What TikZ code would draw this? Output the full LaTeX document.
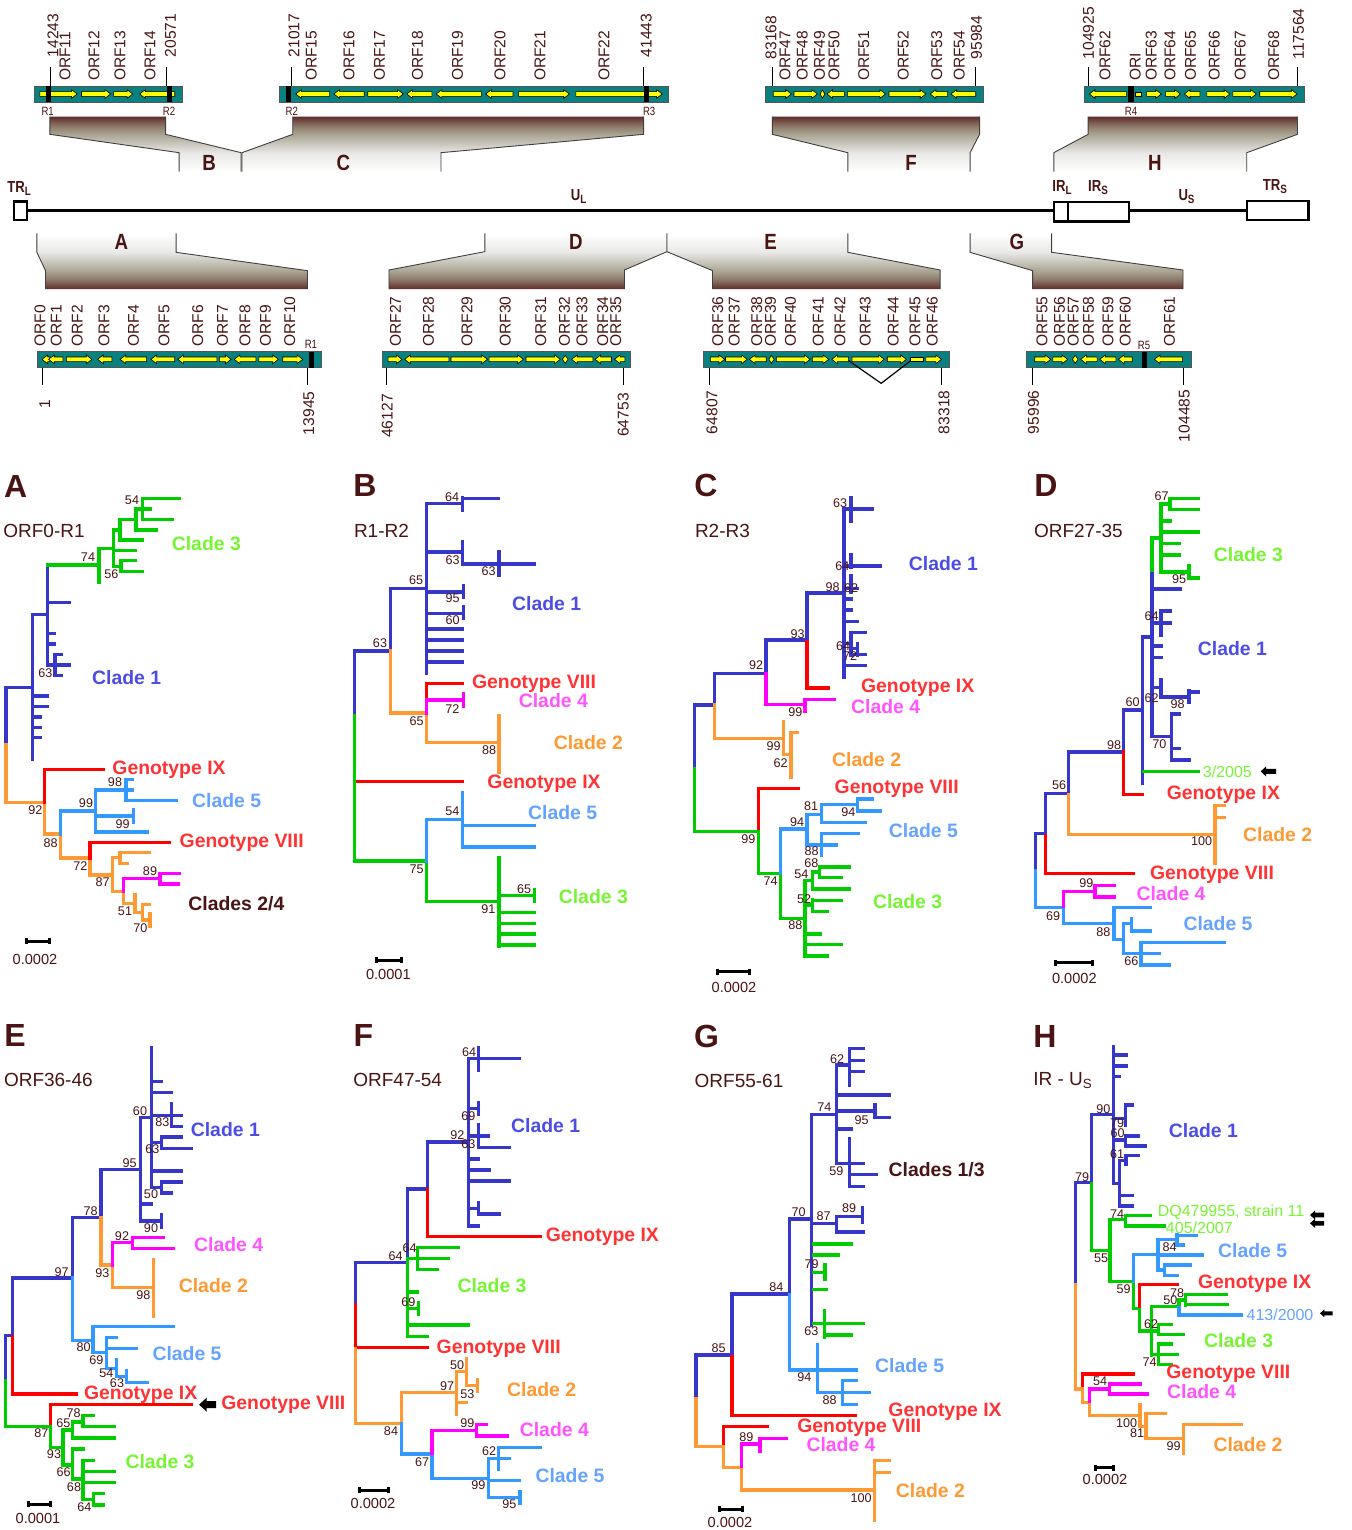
\documentclass[tikz,border=0pt]{standalone}
\usepackage{fontspec}
\setmainfont{Liberation Sans}
\definecolor{txt}{HTML}{4A1414}
\definecolor{barteal}{HTML}{0A8080}
\definecolor{baredge}{HTML}{555555}
\definecolor{gyel}{HTML}{FFFF00}
\definecolor{cb}{HTML}{3636C8}
\definecolor{cg}{HTML}{00CC00}
\definecolor{co}{HTML}{FF9933}
\definecolor{cr}{HTML}{FF0000}
\definecolor{cm}{HTML}{FF00FF}
\definecolor{cs}{HTML}{3399FF}
\definecolor{lb}{HTML}{4D4DE6}
\definecolor{lg}{HTML}{77F533}
\definecolor{lo}{HTML}{FF9933}
\definecolor{lr}{HTML}{FF3333}
\definecolor{lm}{HTML}{FF55FF}
\definecolor{ls}{HTML}{66A3FF}
\definecolor{shA}{HTML}{E8E8E6}
\definecolor{shB}{HTML}{AAA492}
\definecolor{shC}{HTML}{8A7565}
\definecolor{shD}{HTML}{5E2C2A}
\pgfdeclareverticalshading{shTop}{100bp}{color(0bp)=(white); color(25bp)=(white); color(42bp)=(shA); color(59bp)=(shB); color(67bp)=(shC); color(75bp)=(shD); color(100bp)=(shD)}
\pgfdeclareverticalshading{shBot}{100bp}{color(0bp)=(shD); color(25bp)=(shD); color(33bp)=(shC); color(41bp)=(shB); color(58bp)=(shA); color(75bp)=(white); color(100bp)=(white)}
\newcount\gNum
\newcommand\gNext{\global\advance\gNum by 1\relax}
\tikzset{
 zt/.style={x=0.21683pt,y=-0.16667pt},
 tz/.style={x=0.16667pt,y=-0.16667pt},
 tzb/.style={x=0.16667pt,y=-0.1699pt},
 tline/.style={line width=1.7pt,line cap=rect,line join=miter},
 tb/.style={tline,draw=cb},
 tg/.style={tline,draw=cg},
 to/.style={tline,draw=co},
 tr/.style={tline,draw=cr},
 tm/.style={tline,draw=cm},
 ts/.style={tline,draw=cs},
 plain/.style={inner sep=0pt,outer sep=0pt},
 bsv/.style={plain,text=txt,font=\fontsize{6.3}{7}\selectfont},
 rot/.style={plain,text=txt,rotate=90,anchor=west,font=\fontsize{7.8}{8}\selectfont},
 small/.style={plain,text=txt,xscale=.8,font=\fontsize{6}{7}\selectfont},
 seg/.style={plain,text=txt,xscale=.82,font=\fontsize{8}{9}\bfseries\selectfont},
 big/.style={plain,text=txt,xscale=.85,font=\fontsize{11}{12}\bfseries\selectfont},
 clade/.style={plain,font=\fontsize{9.7}{10}\bfseries\selectfont},
 thinl/.style={plain,font=\fontsize{8}{9}\selectfont},
 ttl/.style={plain,text=txt,anchor=west,font=\fontsize{9.5}{10}\selectfont},
 letter/.style={plain,text=txt,font=\fontsize{16}{17}\bfseries\selectfont},
 sval/.style={plain,text=txt,font=\fontsize{7.3}{8}\selectfont},
 gfill/.style={fill=gyel,draw=black,line width=.3pt},
 side/.style={draw=black!75,line width=.45pt},
 tick/.style={draw=black,line width=.5pt},
 box/.style={draw=black,line width=1.2pt,fill=white},
}
\newcommand\gBar[4]{\fill[barteal,draw=baredge,line width=.3pt] (#1,#3) rectangle (#2,#4);}
\newcommand\gMk[4]{\fill[black] (#1,#3) rectangle (#2,#4);}
\newcommand\gRt[3]{\filldraw[gfill] (#1,#3-7)--(#2-13,#3-7)--(#2-13,#3-13)--(#2,#3)--(#2-13,#3+13)--(#2-13,#3+7)--(#1,#3+7)--cycle;}
\newcommand\gLt[3]{\filldraw[gfill] (#2,#3-7)--(#1+13,#3-7)--(#1+13,#3-13)--(#1,#3)--(#1+13,#3+13)--(#1+13,#3+7)--(#2,#3+7)--cycle;}
\newcommand\gDm[3]{\filldraw[gfill] (#1,#3)--({(#1+#2)/2},#3-12)--(#2,#3)--({(#1+#2)/2},#3+12)--cycle;}
\newcommand\gSq[3]{\filldraw[gfill] (#1,#3-6) rectangle (#2,#3+6);}
\newcommand\gRo[3]{\gNext\node[rot] (n\the\gNum) at (#1,#2) {#3};}
\newcommand\gVal[3]{\gNext\node[bsv] (n\the\gNum) at (#1,#2) {#3};}
\newcommand\gLab[4]{\gNext\node[clade,text=#1] (n\the\gNum) at (#2,#3) {#4};}
\newcommand\gThin[4]{\gNext\node[thinl,text=#1] (n\the\gNum) at (#2,#3) {#4};}
\newcommand\gSty[4]{\gNext\node[#1] (n\the\gNum) at (#2,#3) {#4};}
\newcommand\gScale[6]{\draw[black,line width=1.5pt] (#1,#3)--(#2,#3) (#1,#3-9)--(#1,#3+9) (#2,#3-9)--(#2,#3+9);
  \gNext\node[sval] (n\the\gNum) at (#4,#5) {#6};}
\newcommand\gPt[4]{\fill[black] (#1,#3)--(#1+#4*1.1,#3-#4)--(#1+#4*1.1,#3-#4/2)--(#2,#3-#4/2)--(#2,#3+#4/2)--(#1+#4*1.1,#3+#4/2)--(#1+#4*1.1,#3+#4)--cycle;}
\begin{document}
\begin{tikzpicture}[x=0.5pt,y=-0.5pt]
\useasboundingbox (0,0) rectangle (1352,1530);
\fill[white] (0,0) rectangle (1352,1530);
% ---------- top left schematic
\begin{scope}[zt]
\shade[shading=shTop] (115,350)--(382,350)--(382,403)--(556,458)--(556,515)--(413,515)--(413,458)--(115,403)--cycle;
\draw[side] (115,350)--(115,403)--(413,458)--(413,515) (382,350)--(382,403)--(556,458)--(556,515);
\shade[shading=shTop] (675,350)--(1484,350)--(1484,403)--(1017,458)--(1017,515)--(558,515)--(558,458)--(675,403)--cycle;
\draw[side] (675,350)--(675,403)--(558,458)--(558,515) (1484,350)--(1484,403)--(1017,458)--(1017,515);
\gBar{78}{420}{258}{306}
\gRt{92}{178}{282}\gRt{188}{255}{282}\gRt{262}{306}{282}\gLt{322}{403}{282}
\gMk{105}{118}{258}{306}\gMk{385}{397}{258}{306}
\gBar{644}{1540}{258}{306}
\gLt{682}{760}{282}\gLt{770}{840}{282}\gRt{848}{930}{282}\gLt{938}{996}{282}\gLt{1006}{1110}{282}\gLt{1120}{1183}{282}\gRt{1196}{1313}{282}\gRt{1328}{1527}{282}
\gMk{660}{672}{258}{306}\gMk{1485}{1497}{258}{306}
\draw[tick] (117,200)--(117,258) (384,200)--(384,258) (673,200)--(673,258) (1483,200)--(1483,258);
\gRo{122}{172}{14243}\gRo{150}{243}{ORF11}\gRo{217}{243}{ORF12}\gRo{277}{243}{ORF13}\gRo{346}{243}{ORF14}\gRo{393}{172}{20571}
\gRo{678}{172}{21017}\gRo{718}{243}{ORF15}\gRo{805}{243}{ORF16}\gRo{875}{243}{ORF17}\gRo{963}{243}{ORF18}\gRo{1055}{243}{ORF19}\gRo{1153}{243}{ORF20}\gRo{1245}{243}{ORF21}\gRo{1393}{243}{ORF22}\gRo{1490}{172}{41443}
\gSty{small}{110}{335}{R1}\gSty{small}{390}{335}{R2}\gSty{small}{673}{335}{R2}\gSty{small}{1497}{335}{R3}
\gSty{big}{482}{490}{B}\gSty{big}{792}{490}{C}
\gSty{seg}{45}{565}{TR\textsubscript{L}}\gSty{seg}{1335}{590}{U\textsubscript{L}}
\coordinate (trlE) at (62,632);
\end{scope}
% ---------- top right schematic
\begin{scope}[shift={(670,0)},zt]
\shade[shading=shTop] (236,350)--(714,350)--(714,403)--(692,458)--(692,515)--(410,515)--(410,458)--(236,403)--cycle;
\draw[side] (236,350)--(236,403)--(410,458)--(410,515) (714,350)--(714,403)--(692,458)--(692,515);
\shade[shading=shTop] (964,350)--(1447,350)--(1447,403)--(1330,458)--(1330,515)--(885,515)--(885,458)--(964,403)--cycle;
\draw[side] (964,350)--(964,403)--(885,458)--(885,515) (1447,350)--(1447,403)--(1330,458)--(1330,515);
\gBar{220}{722}{258}{306}
\gRt{238}{280}{282}\gRt{286}{340}{282}\gDm{346}{357}{282}\gLt{362}{402}{282}\gRt{409}{497}{282}\gRt{505}{590}{282}\gLt{600}{640}{282}\gLt{648}{705}{282}
\gBar{955}{1462}{258}{306}
\gLt{967}{1053}{282}\gSq{1073}{1087}{282}\gRt{1099}{1133}{282}\gRt{1143}{1177}{282}\gLt{1186}{1222}{282}\gRt{1238}{1291}{282}\gRt{1298}{1352}{282}\gRt{1360}{1446}{282}
\gMk{1057}{1069}{258}{306}
\draw[tick] (236,200)--(236,258) (705,200)--(705,258) (964,200)--(964,258) (1448,200)--(1448,258);
\gRo{233}{178}{83168}\gRo{265}{243}{ORF47}\gRo{305}{243}{ORF48}\gRo{345}{243}{ORF49}\gRo{378}{243}{ORF50}\gRo{447}{243}{ORF51}\gRo{538}{243}{ORF52}\gRo{615}{243}{ORF53}\gRo{667}{243}{ORF54}\gRo{707}{178}{95984}
\gRo{965}{178}{104925}\gRo{1003}{243}{ORF62}\gRo{1073}{243}{ORI}\gRo{1110}{243}{ORF63}\gRo{1153}{243}{ORF64}\gRo{1200}{243}{ORF65}\gRo{1255}{243}{ORF66}\gRo{1315}{243}{ORF67}\gRo{1392}{243}{ORF68}\gRo{1449}{178}{117564}
\gSty{small}{1063}{335}{R4}
\gSty{big}{556}{490}{F}\gSty{big}{1118}{490}{H}
\gSty{seg}{905}{563}{IR\textsubscript{L}}\gSty{seg}{988}{563}{IR\textsubscript{S}}\gSty{seg}{1192}{590}{U\textsubscript{S}}\gSty{seg}{1396}{560}{TR\textsubscript{S}}
\coordinate (irlW) at (885,632);
\coordinate (irsE) at (1058,632);
\coordinate (trsW) at (1330,632);
\end{scope}
% main genome line
\draw[black,line width=1.2pt] (trlE)--(irlW) (irsE)--(trsW);
\begin{scope}[zt]
\draw[box] (32,604) rectangle (62,660);
\end{scope}
\begin{scope}[shift={(670,0)},zt]
\draw[box] (885,606) rectangle (918,664);
\draw[box] (918,606) rectangle (1058,664);
\draw[box] (1330,603) rectangle (1472,660);
\end{scope}
% ---------- lower left schematic
\begin{scope}[shift={(0,230)},zt]
\shade[shading=shBot] (105,177)--(709,177)--(709,122)--(406,67)--(406,10)--(85,10)--(85,67)--(105,122)--cycle;
\draw[side] (85,10)--(85,67)--(105,122)--(105,177) (406,10)--(406,67)--(709,122)--(709,177);
\shade[shading=shBot] (897,177)--(1440,177)--(1440,120)--(1538,65)--(1538,10)--(1118,10)--(1118,65)--(897,120)--cycle;
\draw[side] (1118,10)--(1118,65)--(897,120)--(897,177) (1538,10)--(1538,65)--(1440,120)--(1440,177);
\gBar{85}{740}{365}{413}
\gLt{97}{115}{388}\gLt{112}{145}{388}\gRt{153}{212}{388}\gLt{225}{258}{388}\gLt{277}{338}{388}\gLt{348}{403}{388}\gLt{410}{500}{388}\gRt{506}{533}{388}\gLt{540}{590}{388}\gRt{597}{642}{388}\gRt{652}{698}{388}
\gMk{712}{725}{365}{413}
\gBar{881}{1453}{365}{413}
\gRt{895}{927}{388}\gLt{933}{1035}{388}\gRt{1040}{1124}{388}\gRt{1128}{1207}{388}\gRt{1213}{1292}{388}\gDm{1297}{1310}{388}\gLt{1318}{1367}{388}\gLt{1372}{1410}{388}\gLt{1417}{1441}{388}
\draw[tick] (98,413)--(98,465) (710,413)--(710,465) (892,413)--(892,465) (1438,413)--(1438,465);
\gRo{92}{350}{ORF0}\gRo{130}{350}{ORF1}\gRo{178}{350}{ORF2}\gRo{240}{350}{ORF3}\gRo{308}{350}{ORF4}\gRo{378}{350}{ORF5}\gRo{456}{350}{ORF6}\gRo{513}{350}{ORF7}\gRo{565}{350}{ORF8}\gRo{612}{350}{ORF9}\gRo{668}{350}{ORF10}
\gRo{912}{350}{ORF27}\gRo{988}{350}{ORF28}\gRo{1077}{350}{ORF29}\gRo{1165}{350}{ORF30}\gRo{1247}{350}{ORF31}\gRo{1302}{350}{ORF32}\gRo{1342}{350}{ORF33}\gRo{1390}{350}{ORF34}\gRo{1420}{350}{ORF35}
\gSty{small}{717}{343}{R1}
\gRo{103}{535}{1}\gRo{712}{615}{13945}\gRo{893}{623}{46127}\gRo{1437}{620}{64753}
\gSty{big}{280}{35}{A}\gSty{big}{1328}{35}{D}
\end{scope}
% ---------- lower right schematic
\begin{scope}[shift={(670,230)},zt]
\shade[shading=shBot] (98,177)--(623,177)--(623,120)--(410,67)--(410,10)--(-7,10)--(-7,65)--(98,122)--cycle;
\draw[side] (-7,10)--(-7,65)--(98,122)--(98,177) (410,10)--(410,67)--(623,120)--(623,177);
\shade[shading=shBot] (836,177)--(1183,177)--(1183,120)--(880,67)--(880,10)--(692,10)--(692,67)--(836,122)--cycle;
\draw[side] (692,10)--(692,67)--(836,122)--(836,177) (880,10)--(880,67)--(1183,120)--(1183,177);
\gBar{77}{645}{365}{413}
\gRt{93}{126}{388}\gRt{128}{178}{388}\gLt{183}{222}{388}\gDm{228}{240}{388}\gRt{245}{323}{388}\gRt{328}{366}{388}\gLt{373}{412}{388}\gRt{420}{494}{388}\gRt{501}{545}{388}\gSq{555}{583}{388}\gRt{590}{626}{388}
\draw[black,line width=.6pt] (412,392)--(487,460)--(555,392);
\gBar{821}{1203}{365}{413}
\gRt{841}{878}{388}\gRt{883}{917}{388}\gDm{928}{941}{388}\gLt{947}{985}{388}\gLt{991}{1028}{388}\gLt{1034}{1066}{388}\gLt{1117}{1182}{388}
\gMk{1088}{1100}{365}{413}
\draw[tick] (92,413)--(92,465) (626,413)--(626,465) (837,413)--(837,465) (1185,413)--(1185,465);
\gRo{110}{350}{ORF36}\gRo{148}{350}{ORF37}\gRo{200}{350}{ORF38}\gRo{232}{350}{ORF39}\gRo{278}{350}{ORF40}\gRo{342}{350}{ORF41}\gRo{392}{350}{ORF42}\gRo{450}{350}{ORF43}\gRo{515}{350}{ORF44}\gRo{565}{350}{ORF45}\gRo{605}{350}{ORF46}
\gRo{858}{350}{ORF55}\gRo{898}{350}{ORF56}\gRo{930}{350}{ORF57}\gRo{965}{350}{ORF58}\gRo{1010}{350}{ORF59}\gRo{1050}{350}{ORF60}\gRo{1152}{350}{ORF61}
\gSty{small}{1093}{345}{R5}
\gRo{97}{612}{64807}\gRo{632}{612}{83318}\gRo{838}{612}{95996}\gRo{1186}{636}{104485}
\gSty{big}{232}{35}{E}\gSty{big}{800}{35}{G}
\end{scope}
% ---------- tree A
\begin{scope}[shift={(0,460)},tz]
\draw[tb] (18,855)|-(98,683) (98,463)--(98,897) (98,463)--(143,463) (143,315)--(143,615) (143,428)--(208,428) (143,520)--(163,520) (143,552)--(163,552) (143,615)--(208,615) (165,583)--(165,647) (165,583)--(185,583) (165,647)--(185,647) (98,708)--(143,708) (98,740)--(143,740) (98,771)--(120,771) (98,802)--(120,802) (98,833)--(120,833);
\draw[tg] (143,315)--(297,315) (297,265)--(297,368) (297,265)--(340,265) (340,210)--(340,320) (340,210)--(360,210) (360,178)--(360,240) (360,178)--(408,178) (360,240)--(428,240) (408,147)--(408,210) (408,147)--(428,147) (408,210)--(470,210) (428,115)--(428,178) (428,115)--(538,115) (428,178)--(516,178) (428,147)--(450,147) (340,271)--(407,271) (340,320)--(363,320) (363,302)--(363,334) (363,302)--(407,302) (363,334)--(428,334);
\draw[to] (18,855)|-(133,1027) (133,1027)|-(181,1122) (181,1122)|-(270,1194) (270,1194)|-(338,1245) (338,1192)--(338,1295) (338,1192)--(360,1192) (360,1178)--(360,1210) (360,1178)--(447,1178) (360,1210)--(383,1210) (338,1295)--(370,1295) (370,1295)|-(405,1330) (405,1303)--(405,1357) (405,1357)--(428,1357) (428,1333)--(428,1380) (428,1333)--(447,1333) (428,1380)--(450,1380) (450,1362)--(450,1400);
\draw[tr] (133,1027)|-(310,928) (270,1194)|-(507,1147);
\draw[ts] (181,1122)|-(287,1053) (287,990)--(287,1116) (287,990)--(378,990) (378,958)--(378,1022) (378,958)--(397,958) (378,1022)--(530,1022) (378,990)--(398,990) (287,1068)--(400,1068) (400,1050)--(400,1087) (287,1116)--(443,1116);
\draw[tm] (370,1295)|-(480,1256) (480,1241)--(480,1272) (480,1241)--(538,1241) (480,1272)--(534,1272);
\gVal{396}{122}{54}\gVal{264}{290}{74}\gVal{334}{342}{56}\gVal{136}{638}{63}\gVal{345}{966}{98}\gVal{258}{1029}{99}\gVal{368}{1091}{99}\gVal{106}{1049}{92}\gVal{152}{1148}{88}\gVal{241}{1219}{72}\gVal{308}{1266}{87}\gVal{450}{1232}{89}\gVal{375}{1355}{51}\gVal{421}{1405}{70}
\gLab{lg}{619}{252}{Clade 3}\gLab{lb}{380}{653}{Clade 1}\gLab{lr}{507}{928}{Genotype IX}\gLab{ls}{680}{1022}{Clade 5}\gLab{lr}{725}{1148}{Genotype VIII}\gLab{txt}{709}{1330}{Clades 2/4}
\gSty{ttl}{10}{212}{ORF0-R1}\gSty{letter}{47}{78}{A}
\gScale{80}{148}{1443}{105}{1497}{0.0002}
\end{scope}
% ---------- tree B
\begin{scope}[shift={(340,460)},tzb]
\draw[tb] (44,752)|-(152,562) (152,562)|-(260,378) (260,128)--(260,627) (260,128)--(367,128) (367,110)--(367,148) (367,113)--(475,113) (260,271)--(367,271) (367,240)--(367,306) (367,306)--(477,306) (477,270)--(477,340) (477,306)--(584,306) (260,388)--(370,388) (370,370)--(370,403) (260,451)--(370,451) (370,433)--(370,467) (260,497)--(367,497) (260,530)--(367,530) (260,562)--(367,562) (260,594)--(367,594);
\draw[to] (152,562)|-(260,745) (260,745)|-(477,832) (477,752)--(477,918);
\draw[tr] (260,700)|-(367,658) (44,946)--(367,946);
\draw[tm] (260,745)|-(370,706) (370,688)--(370,724);
\draw[tg] (44,752)|-(260,1180) (260,1180)|-(477,1300) (477,1170)--(477,1430) (477,1282)--(584,1282) (584,1265)--(584,1300) (477,1332)--(584,1332) (477,1364)--(584,1364) (477,1395)--(584,1395) (477,1427)--(584,1427);
\draw[ts] (260,1180)|-(367,1058) (368,978)--(368,1140) (368,1076)--(584,1076) (368,1139)--(584,1139);
\gVal{336}{108}{64}\gVal{338}{296}{63}\gVal{446}{328}{63}\gVal{228}{355}{65}\gVal{338}{407}{95}\gVal{338}{472}{60}\gVal{120}{538}{63}\gVal{337}{732}{72}\gVal{230}{768}{65}\gVal{447}{855}{88}\gVal{337}{1035}{54}\gVal{230}{1204}{75}\gVal{552}{1262}{65}\gVal{445}{1322}{91}
\gLab{lb}{620}{423}{Clade 1}\gLab{lr}{582}{658}{Genotype VIII}\gLab{lm}{640}{707}{Clade 4}\gLab{lo}{745}{832}{Clade 2}\gLab{lr}{612}{952}{Genotype IX}\gLab{ls}{668}{1038}{Clade 5}\gLab{lg}{760}{1285}{Clade 3}
\gSty{ttl}{42}{208}{R1-R2}\gSty{letter}{75}{75}{B}
\gScale{108}{185}{1472}{145}{1514}{0.0001}
\end{scope}
% ---------- tree C
\begin{scope}[shift={(680,470)},tzb]
\draw[tb] (44,878)|-(104,692) (104,692)|-(258,598) (258,598)|-(381,500) (381,500)|-(492,362) (492,115)--(492,610) (492,115)--(513,115) (513,82)--(513,150) (513,115)--(577,115) (492,282)--(513,282) (513,248)--(513,285) (513,282)--(600,282) (513,310)--(513,360) (492,348)--(533,348) (492,380)--(513,380) (492,412)--(513,412) (492,445)--(533,445) (492,510)--(513,510) (513,478)--(513,545) (513,478)--(555,478) (513,525)--(533,525) (533,510)--(533,545) (513,543)--(555,543) (492,576)--(555,576);
\draw[tr] (381,505)|-(446,642) (235,1063)|-(355,937);
\draw[tm] (258,600)|-(375,690) (375,675)--(375,710) (375,675)--(463,675);
\draw[to] (104,692)|-(311,790) (311,740)--(311,838) (311,838)--(333,838) (333,772)--(333,905) (333,772)--(353,772);
\draw[tg] (44,878)|-(235,1063) (235,1063)|-(302,1188) (302,1188)|-(375,1320) (375,1208)--(375,1430) (375,1208)--(398,1208) (398,1183)--(398,1233) (398,1183)--(418,1183) (418,1168)--(418,1200) (418,1168)--(507,1168) (418,1200)--(485,1200) (398,1233)--(507,1233) (375,1280)--(398,1280) (398,1265)--(398,1300) (398,1266)--(485,1266) (398,1300)--(441,1300) (375,1365)--(420,1365) (375,1397)--(485,1397) (375,1430)--(441,1430);
\draw[ts] (302,1188)|-(381,1057) (381,1013)--(381,1103) (381,1013)--(425,1013) (425,985)--(425,1037) (425,985)--(533,985) (533,968)--(533,1003) (533,968)--(577,968) (533,1003)--(600,1003) (425,1037)--(556,1037) (381,1103)--(425,1103) (425,1070)--(425,1135) (425,1070)--(535,1070) (425,1103)--(468,1103);
\gVal{480}{97}{63}\gVal{487}{284}{64}\gVal{458}{344}{98}\gVal{513}{348}{62}\gVal{353}{483}{93}\gVal{489}{518}{64}\gVal{510}{548}{72}\gVal{228}{575}{92}\gVal{346}{714}{99}\gVal{281}{812}{99}\gVal{302}{862}{62}\gVal{393}{988}{81}\gVal{505}{1008}{94}\gVal{351}{1035}{94}\gVal{205}{1085}{99}\gVal{395}{1122}{88}\gVal{394}{1158}{68}\gVal{364}{1189}{54}\gVal{272}{1209}{74}\gVal{372}{1262}{52}\gVal{346}{1338}{88}
\gLab{lb}{790}{275}{Clade 1}\gLab{lr}{713}{642}{Genotype IX}\gLab{lm}{617}{697}{Clade 4}\gLab{lo}{560}{853}{Clade 2}\gLab{lr}{650}{938}{Genotype VIII}\gLab{ls}{730}{1060}{Clade 5}\gLab{lg}{683}{1270}{Clade 3}
\gSty{ttl}{45}{178}{R2-R3}\gSty{letter}{78}{45}{C}
\gScale{112}{208}{1476}{162}{1523}{0.0002}
\end{scope}
% ---------- tree D
\begin{scope}[shift={(1020,470)},tzb]
\draw[tb] (46,1178)|-(76,1070) (76,1070)|-(146,952) (146,952)|-(311,830) (311,830)|-(367,706) (367,492)--(367,922) (367,492)--(396,492) (396,295)--(396,785) (396,350)--(480,350) (396,450)--(450,450) (423,415)--(423,485) (423,415)--(450,415) (396,518)--(423,518) (396,552)--(423,552) (396,640)--(423,640) (423,618)--(423,668) (423,668)--(507,668) (507,650)--(507,685) (507,653)--(534,653) (396,785)--(455,785) (455,718)--(455,853) (455,718)--(477,718) (455,820)--(477,820) (455,853)--(507,853);
\draw[tg] (396,295)|-(423,200) (423,100)--(423,300) (423,100)--(450,100) (450,83)--(450,117) (450,83)--(534,83) (450,117)--(534,117) (423,150)--(452,150) (423,183)--(534,183) (423,217)--(477,217) (423,250)--(477,250) (423,300)--(507,300) (507,283)--(507,318) (507,318)--(534,318) (372,887)--(534,887);
\draw[tr] (311,830)|-(367,955) (76,1075)|-(340,1188);
\draw[to] (146,955)|-(585,1072) (585,988)--(585,1158) (585,988)--(614,988) (585,1022)--(614,1022);
\draw[ts] (46,1178)|-(130,1288) (130,1288)|-(282,1335) (282,1288)--(282,1382) (282,1288)--(392,1288) (282,1382)--(311,1382) (311,1335)--(311,1423) (311,1335)--(335,1335) (335,1320)--(335,1357) (335,1357)--(392,1357) (311,1423)--(363,1423) (363,1390)--(363,1457) (363,1390)--(613,1390) (363,1423)--(419,1423) (363,1457)--(448,1457);
\draw[tm] (130,1285)|-(225,1240) (225,1222)--(225,1256) (225,1222)--(282,1222) (225,1256)--(282,1256);
\gVal{425}{77}{67}\gVal{477}{322}{95}\gVal{395}{430}{64}\gVal{395}{670}{62}\gVal{473}{690}{98}\gVal{338}{683}{60}\gVal{418}{808}{70}\gVal{282}{810}{98}\gVal{117}{927}{56}\gVal{545}{1093}{100}\gVal{199}{1216}{99}\gVal{99}{1312}{69}\gVal{250}{1360}{88}\gVal{334}{1445}{66}
\gLab{lg}{685}{248}{Clade 3}\gLab{lb}{637}{526}{Clade 1}\gThin{lg}{622}{887}{3/2005}\gLab{lr}{610}{955}{Genotype IX}\gLab{lo}{773}{1072}{Clade 2}\gLab{lr}{576}{1192}{Genotype VIII}\gLab{lm}{453}{1247}{Clade 4}\gLab{ls}{594}{1335}{Clade 5}
\gPt{722}{768}{887}{15}
\gSty{ttl}{42}{178}{ORF27-35}\gSty{letter}{78}{45}{D}
\gScale{105}{217}{1450}{163}{1497}{0.0002}
\end{scope}
% ---------- tree E
\begin{scope}[shift={(0,1010)},tz]
\draw[tb] (17,1112)|-(37,977) (37,977)|-(218,804) (218,804)|-(303,622) (303,622)|-(422,478) (422,323)--(422,633) (422,323)--(455,323) (455,113)--(455,532) (455,215)--(483,215) (455,248)--(514,248) (455,316)--(545,316) (514,280)--(514,350) (514,349)--(545,349) (455,398)--(484,398) (484,380)--(484,415) (484,381)--(545,381) (484,415)--(575,415) (455,483)--(545,483) (455,532)--(484,532) (484,515)--(484,550) (484,516)--(545,516) (484,549)--(514,549) (422,582)--(453,582) (422,633)--(484,633) (484,615)--(484,652);
\draw[tr] (37,980)|-(229,1152) (152,1249)|-(575,1184);
\draw[to] (303,622)|-(337,765) (337,765)|-(460,832) (460,748)--(460,920);
\draw[tm] (337,765)|-(398,698) (398,682)--(398,716) (398,683)--(490,683) (398,716)--(521,716);
\draw[ts] (218,804)|-(279,992) (279,950)--(279,1028) (279,950)--(521,950) (279,1028)--(319,1028) (319,983)--(319,1075) (319,983)--(350,983) (319,1016)--(410,1016) (319,1075)--(350,1075) (350,1048)--(350,1100) (350,1100)--(380,1100) (380,1082)--(380,1118) (380,1117)--(441,1117);
\draw[tg] (17,1112)|-(152,1249) (152,1249)|-(189,1312) (189,1260)--(189,1365) (189,1260)--(218,1260) (218,1236)--(218,1284) (218,1236)--(249,1236) (249,1217)--(249,1250) (249,1217)--(280,1217) (249,1250)--(342,1250) (218,1284)--(342,1284) (189,1365)--(218,1365) (218,1317)--(218,1407) (218,1317)--(249,1317) (218,1407)--(249,1407) (249,1351)--(249,1468) (249,1351)--(280,1351) (249,1385)--(342,1385) (249,1418)--(342,1418) (249,1468)--(280,1468) (280,1450)--(280,1485) (280,1450)--(311,1450) (280,1485)--(311,1485);
\gVal{420}{303}{60}\gVal{487}{337}{83}\gVal{457}{416}{63}\gVal{389}{458}{95}\gVal{453}{553}{50}\gVal{453}{655}{90}\gVal{272}{602}{78}\gVal{366}{679}{92}\gVal{307}{788}{93}\gVal{185}{786}{97}\gVal{430}{855}{98}\gVal{251}{1012}{80}\gVal{289}{1050}{69}\gVal{319}{1090}{54}\gVal{351}{1118}{63}\gVal{221}{1210}{78}\gVal{190}{1238}{65}\gVal{124}{1268}{87}\gVal{162}{1332}{93}\gVal{191}{1385}{66}\gVal{222}{1430}{68}\gVal{253}{1490}{64}
\gLab{lb}{676}{358}{Clade 1}\gLab{lm}{686}{703}{Clade 4}\gLab{lo}{640}{828}{Clade 2}\gLab{ls}{561}{1032}{Clade 5}\gLab{lr}{422}{1155}{Genotype IX}\gLab{lr}{850}{1184}{Genotype VIII}\gLab{lg}{480}{1355}{Clade 3}
\gPt{597}{648}{1184}{21}
\gSty{ttl}{12}{210}{ORF36-46}\gSty{letter}{45}{75}{E}
\gScale{85}{150}{1483}{114}{1524}{0.0001}
\end{scope}
% ---------- tree F
\begin{scope}[shift={(340,1010)},tz]
\draw[tb] (46,882)|-(202,758) (202,758)|-(263,537) (263,537)|-(385,396) (385,146)--(385,648) (385,146)--(538,146) (415,112)--(415,182) (385,295)--(415,295) (415,278)--(415,312) (385,378)--(445,378) (415,345)--(415,412) (415,412)--(508,412) (385,447)--(415,447) (385,480)--(447,480) (385,513)--(508,513) (385,595)--(415,595) (415,578)--(415,612) (415,612)--(478,612) (385,648)--(415,648);
\draw[tr] (263,540)|-(600,680) (46,885)|-(263,1012);
\draw[tg] (202,745)--(202,980) (232,712)--(354,712) (232,712)--(232,779) (202,746)--(324,746) (232,779)--(293,779) (202,846)--(232,846) (202,895)--(235,895) (235,878)--(235,912) (202,945)--(384,945) (202,979)--(262,979);
\draw[to] (46,1015)|-(185,1240) (185,1240)|-(350,1148) (350,1085)--(350,1212) (350,1085)--(380,1085) (380,1045)--(380,1127) (380,1127)--(413,1127) (413,1110)--(413,1145) (350,1178)--(380,1178);
\draw[ts] (185,1240)|-(276,1332) (276,1332)|-(446,1405) (446,1345)--(446,1463) (446,1345)--(476,1345) (476,1312)--(476,1378) (476,1312)--(600,1312) (476,1345)--(508,1345) (446,1411)--(538,1411) (446,1463)--(540,1463) (540,1445)--(540,1480);
\draw[tm] (276,1330)|-(410,1262) (410,1244)--(410,1278) (410,1244)--(440,1244) (410,1278)--(502,1278);
\gVal{387}{125}{64}\gVal{385}{318}{69}\gVal{352}{375}{92}\gVal{385}{401}{63}\gVal{209}{713}{64}\gVal{167}{737}{64}\gVal{205}{875}{69}\gVal{351}{1066}{50}\gVal{321}{1128}{97}\gVal{382}{1153}{53}\gVal{382}{1240}{99}\gVal{153}{1262}{84}\gVal{447}{1323}{62}\gVal{246}{1356}{67}\gVal{415}{1425}{99}\gVal{508}{1482}{95}
\gLab{lb}{617}{347}{Clade 1}\gLab{lr}{787}{680}{Genotype IX}\gLab{lg}{456}{828}{Clade 3}\gLab{lr}{476}{1017}{Genotype VIII}\gLab{lo}{605}{1140}{Clade 2}\gLab{lm}{643}{1260}{Clade 4}\gLab{ls}{690}{1397}{Clade 5}
\gSty{ttl}{40}{210}{ORF47-54}\gSty{letter}{70}{75}{F}
\gScale{57}{145}{1440}{99}{1479}{0.0002}
\end{scope}
% ---------- tree G
\begin{scope}[shift={(680,1010)},tz]
\draw[tb] (48,1167)|-(156,1035) (156,1035)|-(328,852) (328,852)|-(395,627) (395,313)--(395,945) (395,313)--(470,313) (470,165)--(470,460) (470,165)--(508,165) (508,115)--(508,225) (508,115)--(551,115) (508,151)--(551,151) (508,185)--(551,185) (470,255)--(627,255) (470,303)--(585,303) (585,285)--(585,322) (585,322)--(627,322) (470,357)--(513,357) (470,460)--(551,460) (508,387)--(508,530) (508,493)--(589,493) (508,530)--(551,530) (395,640)--(470,640) (470,620)--(470,666) (470,620)--(547,620) (547,593)--(547,637) (470,666)--(551,666);
\draw[tg] (402,702)--(513,702) (402,735)--(475,735) (402,788)--(435,788) (435,765)--(435,807) (402,838)--(438,838) (402,940)--(551,940) (433,903)--(433,982) (433,975)--(513,975);
\draw[ts] (328,855)|-(530,1080) (412,1005)--(412,1148) (412,1148)--(568,1148) (488,1112)--(488,1183) (488,1112)--(530,1112) (488,1183)--(530,1183);
\draw[tr] (156,1040)|-(527,1216) (131,1310)|-(261,1250);
\draw[to] (48,1167)|-(131,1310) (131,1310)|-(185,1372) (185,1372)|-(583,1440) (583,1352)--(583,1532) (583,1352)--(627,1352) (583,1388)--(627,1388);
\draw[tm] (185,1368)|-(240,1302) (240,1285)--(240,1323) (240,1285)--(318,1285);
\gVal{471}{146}{62}\gVal{433}{291}{74}\gVal{545}{329}{95}\gVal{469}{483}{59}\gVal{507}{593}{89}\gVal{356}{606}{70}\gVal{431}{619}{87}\gVal{395}{763}{79}\gVal{289}{831}{84}\gVal{394}{964}{63}\gVal{116}{1013}{85}\gVal{373}{1102}{94}\gVal{449}{1170}{88}\gVal{199}{1280}{89}\gVal{543}{1463}{100}
\gLab{txt}{770}{480}{Clades 1/3}\gLab{ls}{689}{1067}{Clade 5}\gLab{lr}{795}{1205}{Genotype IX}\gLab{lr}{538}{1252}{Genotype VIII}\gLab{lm}{483}{1303}{Clade 4}\gLab{lo}{751}{1443}{Clade 2}
\gSty{ttl}{44}{212}{ORF55-61}\gSty{letter}{80}{78}{G}
\gScale{117}{187}{1497}{150}{1537}{0.0002}
\end{scope}
% ---------- tree H
\begin{scope}[shift={(1020,1010)},tz]
\draw[tb] (166,825)|-(215,518) (215,518)|-(280,313) (280,110)--(280,520) (280,135)--(318,135) (280,168)--(318,168) (280,199)--(299,199) (280,325)--(317,325) (317,285)--(317,345) (317,285)--(336,285) (280,390)--(317,390) (317,378)--(317,408) (317,378)--(355,378) (317,408)--(375,408) (280,520)--(299,520) (299,452)--(299,588) (299,452)--(318,452) (318,437)--(318,462) (318,437)--(355,437) (299,556)--(336,556) (299,588)--(336,588);
\draw[tg] (215,520)|-(270,722) (270,628)--(270,815) (270,628)--(316,628) (316,616)--(316,648) (316,616)--(392,616) (316,648)--(432,648) (270,815)--(340,815) (340,815)|-(358,895) (358,895)|-(395,963) (395,890)--(395,1035) (395,890)--(477,890) (477,870)--(477,890) (477,870)--(497,870) (497,853)--(497,885) (497,853)--(618,853) (497,884)--(623,884) (395,963)--(415,963) (415,943)--(415,973) (415,943)--(453,943) (415,973)--(491,973) (395,1033)--(415,1033) (415,1002)--(415,1063) (415,1002)--(453,1002) (415,1033)--(471,1033) (415,1063)--(453,1063);
\draw[ts] (340,815)|-(414,733) (414,688)--(414,780) (414,688)--(471,688) (471,675)--(471,705) (471,676)--(530,676) (471,705)--(490,705) (414,735)--(548,735) (414,780)--(433,780) (433,765)--(433,796) (433,765)--(510,765) (433,796)--(471,796) (477,893)|-(664,915);
\draw[tr] (358,890)|-(472,823) (187,1135)|-(341,1092);
\draw[to] (166,825)|-(187,1137) (187,1137)|-(208,1178) (208,1178)|-(360,1216) (360,1183)--(360,1250) (360,1250)--(378,1250) (378,1210)--(378,1285) (378,1210)--(436,1210) (378,1285)--(491,1285) (491,1243)--(491,1330) (491,1243)--(664,1243);
\draw[tm] (208,1175)|-(268,1137) (268,1122)--(268,1152) (268,1122)--(360,1122) (268,1152)--(383,1152);
\gVal{250}{296}{90}\gVal{291}{338}{79}\gVal{293}{370}{60}\gVal{291}{432}{61}\gVal{186}{500}{79}\gVal{291}{612}{74}\gVal{449}{711}{84}\gVal{243}{746}{55}\gVal{311}{838}{59}\gVal{471}{848}{78}\gVal{451}{870}{50}\gVal{393}{942}{62}\gVal{389}{1055}{74}\gVal{240}{1115}{54}\gVal{320}{1238}{100}\gVal{351}{1270}{81}\gVal{461}{1308}{99}
\gLab{lb}{550}{362}{Clade 1}\gThin{lg}{633}{608}{DQ479955, strain 11}\gThin{lg}{538}{652}{405/2007}\gLab{ls}{698}{723}{Clade 5}\gLab{lr}{704}{820}{Genotype IX}\gThin{ls}{780}{914}{413/2000}\gLab{lg}{656}{992}{Clade 3}\gLab{lr}{625}{1092}{Genotype VIII}\gLab{lm}{545}{1146}{Clade 4}\gLab{lo}{684}{1303}{Clade 2}
\gPt{870}{912}{615}{14}\gPt{870}{912}{640}{14}\gPt{900}{938}{910}{12}
\gSty{ttl}{40}{212}{IR - U\textsubscript{S}}\gSty{letter}{75}{78}{H}
\gScale{225}{280}{1373}{255}{1408}{0.0002}
\end{scope}
\end{tikzpicture}
\end{document}
